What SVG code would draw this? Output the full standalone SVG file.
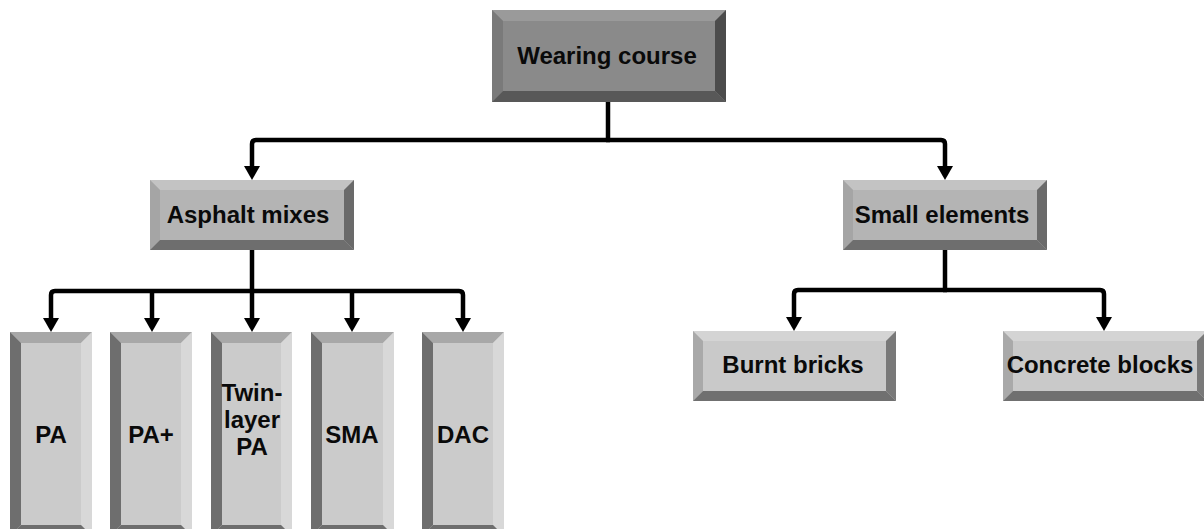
<svg xmlns="http://www.w3.org/2000/svg" width="1204" height="529" viewBox="0 0 1204 529">
<style>
text{font-family:"Liberation Sans",Arial,sans-serif;font-weight:bold;font-size:24px;fill:#0a0a0a;text-anchor:middle}
.ln{fill:none;stroke:#000;stroke-width:4.5}
.d .f{fill:#8a8a8a}.d .t{fill:#9a9a9a}.d .l{fill:#7a7a7a}.d .r{fill:#4c4c4c}.d .b{fill:#585858}
.m .f{fill:#b4b4b4}.m .t{fill:#c3c3c3}.m .l{fill:#a5a5a5}.m .r{fill:#6a6a6a}.m .b{fill:#6e6e6e}
.s .f{fill:#c9c9c9}.s .t{fill:#d4d4d4}.s .l{fill:#a9a9a9}.s .r{fill:#797979}.s .b{fill:#707070}
.v .f{fill:#cbcbcb}.v .t{fill:#a8a8a8}.v .l{fill:#6e6e6e}.v .r{fill:#d8d8d8}.v .b{fill:#6e6e6e}
</style>
<defs>
<marker id="ah" markerUnits="userSpaceOnUse" viewBox="0 -8 14 16" markerWidth="14" markerHeight="16" refX="0" refY="0" orient="auto">
<path d="M0,-8 L14,0 L0,8 z" fill="#000"/>
</marker>
</defs>

<g id="connectors">
<path class="ln" d="M608,102 V140"/>
<path class="ln" d="M610,140 H256 Q252,140 252,144 V166" marker-end="url(#ah)"/>
<path class="ln" d="M606,140 H941 Q945,140 945,144 V166" marker-end="url(#ah)"/>
<path class="ln" d="M252,250 V318" marker-end="url(#ah)"/>
<path class="ln" d="M254,291 H55 Q51,291 51,295 V318" marker-end="url(#ah)"/>
<path class="ln" d="M250,291 H459 Q463,291 463,295 V318" marker-end="url(#ah)"/>
<path class="ln" d="M152,291 V318" marker-end="url(#ah)"/>
<path class="ln" d="M352,291 V318" marker-end="url(#ah)"/>
<path class="ln" d="M945,250 V290"/>
<path class="ln" d="M947,290 H798 Q794,290 794,294 V317" marker-end="url(#ah)"/>
<path class="ln" d="M943,290 H1100 Q1104,290 1104,294 V317" marker-end="url(#ah)"/>
</g>

<g id="wearing-course" class="d">
<rect class="f" x="492" y="10" width="234" height="92"/>
<polygon class="t" points="492,10 726,10 715,21 503,21"/>
<polygon class="l" points="492,10 503,21 503,91 492,102"/>
<polygon class="r" points="726,10 726,102 715,91 715,21"/>
<polygon class="b" points="492,102 726,102 715,91 503,91"/>
<text x="607" y="64">Wearing course</text>
</g>

<g id="asphalt-mixes" class="m">
<rect class="f" x="150" y="180" width="204" height="70"/>
<polygon class="t" points="150,180 354,180 344,190 160,190"/>
<polygon class="l" points="150,180 160,190 160,240 150,250"/>
<polygon class="r" points="354,180 354,250 344,240 344,190"/>
<polygon class="b" points="150,250 354,250 344,240 160,240"/>
<text x="248" y="223">Asphalt mixes</text>
</g>

<g id="small-elements" class="m">
<rect class="f" x="843" y="180" width="204" height="70"/>
<polygon class="t" points="843,180 1047,180 1037,190 853,190"/>
<polygon class="l" points="843,180 853,190 853,240 843,250"/>
<polygon class="r" points="1047,180 1047,250 1037,240 1037,190"/>
<polygon class="b" points="843,250 1047,250 1037,240 853,240"/>
<text x="942" y="223">Small elements</text>
</g>

<g id="burnt-bricks" class="s">
<rect class="f" x="693" y="331" width="203" height="70"/>
<polygon class="t" points="693,331 896,331 886,341 703,341"/>
<polygon class="l" points="693,331 703,341 703,391 693,401"/>
<polygon class="r" points="896,331 896,401 886,391 886,341"/>
<polygon class="b" points="693,401 896,401 886,391 703,391"/>
<text x="793" y="373">Burnt bricks</text>
</g>

<g id="concrete-blocks" class="s">
<rect class="f" x="1003" y="331" width="204" height="70"/>
<polygon class="t" points="1003,331 1207,331 1197,341 1013,341"/>
<polygon class="l" points="1003,331 1013,341 1013,391 1003,401"/>
<polygon class="r" points="1207,331 1207,401 1197,391 1197,341"/>
<polygon class="b" points="1003,401 1207,401 1197,391 1013,391"/>
<text x="1100" y="373">Concrete blocks</text>
</g>

<g id="pa" class="v">
<rect class="f" x="10" y="332" width="82" height="204"/>
<polygon class="t" points="10,332 92,332 81,343 21,343"/>
<polygon class="l" points="10,332 21,343 21,525 10,536"/>
<polygon class="r" points="92,332 92,536 81,525 81,343"/>
<polygon class="b" points="10,536 92,536 81,525 21,525"/>
<text x="51" y="443">PA</text>
</g>

<g id="pa-plus" class="v">
<rect class="f" x="110" y="332" width="82" height="204"/>
<polygon class="t" points="110,332 192,332 181,343 121,343"/>
<polygon class="l" points="110,332 121,343 121,525 110,536"/>
<polygon class="r" points="192,332 192,536 181,525 181,343"/>
<polygon class="b" points="110,536 192,536 181,525 121,525"/>
<text x="151" y="443">PA+</text>
</g>

<g id="twin-layer-pa" class="v">
<rect class="f" x="211" y="332" width="81" height="204"/>
<polygon class="t" points="211,332 292,332 281,343 222,343"/>
<polygon class="l" points="211,332 222,343 222,525 211,536"/>
<polygon class="r" points="292,332 292,536 281,525 281,343"/>
<polygon class="b" points="211,536 292,536 281,525 222,525"/>
<text x="252" y="401">Twin-</text>
<text x="252" y="428">layer</text>
<text x="252" y="455">PA</text>
</g>

<g id="sma" class="v">
<rect class="f" x="311" y="332" width="83" height="204"/>
<polygon class="t" points="311,332 394,332 383,343 322,343"/>
<polygon class="l" points="311,332 322,343 322,525 311,536"/>
<polygon class="r" points="394,332 394,536 383,525 383,343"/>
<polygon class="b" points="311,536 394,536 383,525 322,525"/>
<text x="352" y="443">SMA</text>
</g>

<g id="dac" class="v">
<rect class="f" x="422" y="332" width="82" height="204"/>
<polygon class="t" points="422,332 504,332 493,343 433,343"/>
<polygon class="l" points="422,332 433,343 433,525 422,536"/>
<polygon class="r" points="504,332 504,536 493,525 493,343"/>
<polygon class="b" points="422,536 504,536 493,525 433,525"/>
<text x="463" y="443">DAC</text>
</g>
</svg>
